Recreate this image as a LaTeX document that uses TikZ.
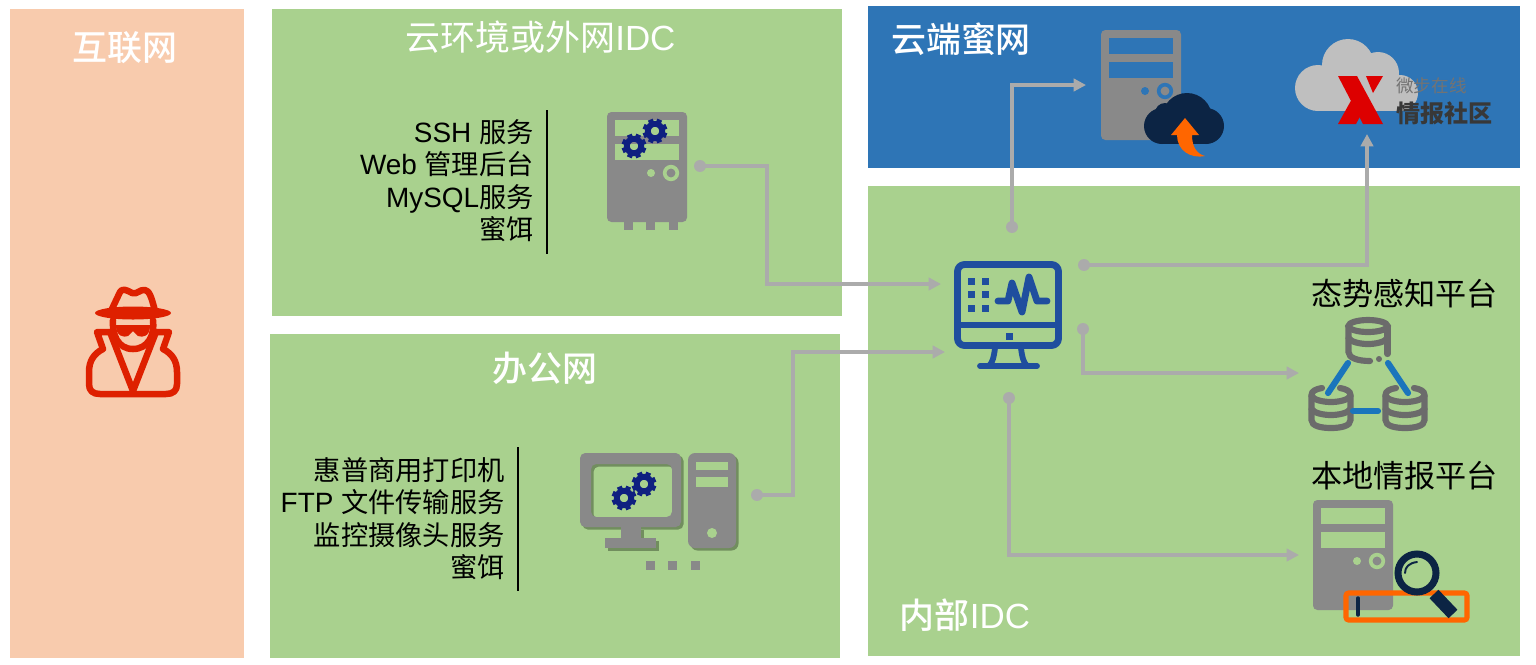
\documentclass[tikz,border=0pt]{standalone}
\usepackage{fontspec}
\setmainfont{Liberation Sans}
\newfontfamily\cjk{Noto Sans CJK SC}
\newfontfamily\cjkm{Noto Sans CJK SC Medium}
\newfontfamily\cjkl[Scale=0.975]{Noto Sans CJK SC}
\newcommand\zh[1]{{\cjk #1}}
\newcommand\zm[1]{{\cjkm #1}}
\newcommand\zl[1]{{\cjkl #1}}
\usetikzlibrary{arrows.meta}
\definecolor{panelgreen}{HTML}{A9D18E}
\definecolor{panelpeach}{HTML}{F8CBAD}
\definecolor{panelblue}{HTML}{2E75B6}
\definecolor{linegrey}{HTML}{ABABAB}
\definecolor{srvgrey}{HTML}{898989}
\definecolor{gearblue}{HTML}{0F2080}
\definecolor{monblue}{HTML}{1F4E9E}
\definecolor{navy}{HTML}{0C2444}
\definecolor{hotorange}{HTML}{FF6600}
\definecolor{dbgrey}{HTML}{6B6B6B}
\definecolor{dbblue}{HTML}{1A75BC}
\definecolor{spyred}{HTML}{DE2000}
\definecolor{logored}{HTML}{DD0000}
\definecolor{cloudgrey}{HTML}{BFBFBF}
\definecolor{softshadow}{HTML}{718E5E}
\tikzset{
  x=0.02cm,y=-0.02cm,
  panel/.style={fill=#1,draw=none},
  titletext/.style={text=white,inner sep=0pt,font=\fontsize{19.9}{23}\selectfont},
  listtext/.style={text=black,inner sep=0pt,align=right,anchor=east,font=\fontsize{15.9}{18.45}\selectfont},
  platformtext/.style={text=black,inner sep=0pt,font=\fontsize{17.7}{21}\selectfont},
  bar/.style={draw=black,line width=0.8pt},
  dotnode/.style={circle,fill=linegrey,draw=none,inner sep=0pt,minimum size=6.8pt},
  link/.style={draw=linegrey,line width=2.2pt,-{Triangle[length=7pt,width=7pt]}},
  dbline/.style={draw=dbgrey,line width=3.5pt,line cap=round},
  dbconn/.style={draw=dbblue,line width=3.5pt,line cap=round},
  monline/.style={draw=monblue,line width=3.9pt,line cap=round,line join=round},
  spyline/.style={draw=spyred,line width=3.7pt,line join=round,line cap=round},
}
\newcommand\gearico[2]{%
  \begin{scope}[shift={(#1,#2)}]
    \draw[gearblue,line width=3.3pt] (0,0) circle[radius=7.2];
    \foreach \a in {0,45,...,315}
      \draw[gearblue,line width=2.9pt] (\a+22.5:8) -- (\a+22.5:12.3);
  \end{scope}}
\newcommand\serverico[3]{%
  \begin{scope}[shift={(#1,#2)}]
    \fill[srvgrey,rounded corners=2.5pt] (0,0) rectangle (80,110);
    \fill[#3] (8,8) rectangle (72,24);
    \fill[#3] (8,32) rectangle (72,48);
    \fill[#3] (44,61) circle[radius=4];
    \draw[#3,line width=2.1pt] (64,61) circle[radius=6.3];
  \end{scope}}
\newcommand\lowerdb[1]{%
  \begin{scope}[shift={(#1,0)}]
    \draw[dbline] (-9,388) .. controls (-15,389) and (-19.5,391) .. (-19.5,395) -- (-19.5,420)
       .. controls (-19.5,426) and (-10,428) .. (0,428) .. controls (10,428) and (19.5,426) .. (19.5,420) -- (19.5,395)
       .. controls (19.5,391) and (15,389) .. (9,388);
    \draw[dbline] (-19.5,396) .. controls (-17,400) and (-8,402) .. (0,402) .. controls (8,402) and (17,400) .. (19.5,396);
    \draw[dbline] (-19.5,409) .. controls (-17,413) and (-8,415) .. (0,415) .. controls (8,415) and (17,413) .. (19.5,409);
  \end{scope}}
\begin{document}
\begin{tikzpicture}
\useasboundingbox (0,0) rectangle (1536,664);
\fill[white] (0,0) rectangle (1536,664);
% panels
\fill[panel=panelpeach] (10,9) rectangle (244,658);
\fill[panel=panelgreen] (272,9) rectangle (842,316);
\fill[panel=panelgreen] (270,334) rectangle (840,658);
\fill[panel=panelblue] (868,6) rectangle (1520,168);
\fill[panel=panelgreen] (868,186) rectangle (1520,656);
% titles
\node[titletext] (tnet) at (125,48) {\zm{互联网}};
\node[titletext] (tcloud) at (540.5,37) {\zh{云环境或外网}IDC};
\node[titletext] (toffice) at (545,368) {\zm{办公网}};
\node[titletext] (thoney) at (961,39) {\zm{云端蜜网}};
\node[titletext] (tidc) at (965,615) {\zm{内部}IDC};
% lists
\node[listtext] (list1) at (534,180.5) {SSH \zl{服务}\\Web \zl{管理后台}\\MySQL\zl{服务}\\\zl{蜜饵}};
\draw[bar] (547,110) -- (547,254);
\node[listtext] (list2) at (505,518.5) {\zl{惠普商用打印机}\\FTP \zl{文件传输服务}\\\zl{监控摄像头服务}\\\zl{蜜饵}};
\draw[bar] (518,447) -- (518,591);
\node[platformtext] (tsa) at (1404.5,294) {\zh{态势感知平台}};
\node[platformtext] (tlocal) at (1404.5,476) {\zh{本地情报平台}};
% spy
\begin{scope}
  \fill[spyred] (133,313) ellipse[x radius=38,y radius=6.5];
  \draw[spyline] (111,311) -- (120,292) .. controls (122,288) and (127,290) .. (132,293) .. controls (137,295) and (140,289) .. (145,290) .. controls (149,291) and (151,295) .. (155,311);
  \draw[spyline] (113,320) .. controls (112,335) and (118,349) .. (133,349) .. controls (148,349) and (155,335) .. (153,320);
  \fill[spyred] (113,325) rectangle (152,328);
  \fill[spyred] (116,326) .. controls (116,336) and (124,338) .. (128,336) -- (133,331) -- (138,336) .. controls (143,338) and (150,336) .. (150,326) -- cycle;
  \draw[spyline] (110,332) -- (97,332) -- (103,349) .. controls (93,354) and (89,362) .. (89,372) -- (89,384) .. controls (89,391) and (93,394) .. (100,394) -- (166,394) .. controls (173,394) and (177,391) .. (177,384) -- (177,372) .. controls (177,362) and (173,354) .. (163,349) -- (169,332) -- (156,332);
  \draw[spyline] (110,332) -- (133,391) -- (156,332);
\end{scope}
% server with gears
\serverico{607}{112}{panelgreen}
\fill[srvgrey] (624,221) rectangle (633,230);
\fill[srvgrey] (646,221) rectangle (655,230);
\fill[srvgrey] (669,221) rectangle (678,230);
\gearico{634}{146}
\gearico{655}{131}
% desktop
\begin{scope}[shift={(2.5,2.5)}]
  \fill[softshadow,even odd rule,rounded corners=3pt] (580,453) rectangle (681,527) (591,464) rectangle (672,517);
  \fill[softshadow] (621,527) rectangle (641,538);
  \fill[softshadow] (605,538) rectangle (656,548);
  \fill[softshadow,rounded corners=4pt] (688,453) rectangle (736,548);
\end{scope}
\fill[srvgrey,even odd rule,rounded corners=3pt] (580,453) rectangle (681,527) (591,464) rectangle (672,517);
\fill[srvgrey] (621,527) rectangle (641,538);
\fill[srvgrey] (605,538) rectangle (656,548);
\fill[srvgrey,rounded corners=4pt] (688,453) rectangle (736,548);
\fill[panelgreen] (696,462) rectangle (728,470);
\fill[panelgreen] (696,477) rectangle (728,487);
\fill[panelgreen] (712,533) circle[radius=5];
\fill[srvgrey] (646,561) rectangle (655,570);
\fill[srvgrey] (668,561) rectangle (677,570);
\fill[srvgrey] (691,561) rectangle (700,570);
\gearico{624}{498}
\gearico{644}{484}
% cloud honeypot server
\serverico{1101}{30}{panelblue}
\fill[navy] (1187,118) circle[radius=25];
\fill[navy] (1165,113) circle[radius=10];
\fill[navy] (1162,126) circle[radius=18];
\fill[navy] (1206,126) circle[radius=18];
\fill[navy] (1162,125) rectangle (1206,144);
\fill[hotorange] (1185,118) -- (1199,135) -- (1192,135) .. controls (1192,147) and (1197,154) .. (1205,156) .. controls (1190,159) and (1177,150) .. (1177,135) -- (1171,135) -- cycle;
% threat intel logo
\fill[cloudgrey] (1318,88) circle[radius=23];
\fill[cloudgrey] (1348,65) circle[radius=26];
\fill[cloudgrey] (1378,73) circle[radius=21];
\fill[cloudgrey] (1400,93) circle[radius=18];
\fill[cloudgrey] (1318,75) rectangle (1400,111);
\fill[logored] (1338,76) -- (1357,76) -- (1383,124) -- (1363,124) -- cycle;
\fill[logored] (1338,124) -- (1353,97) -- (1362,113) -- (1356,124) -- cycle;
\fill[logored] (1366,76) -- (1383,76) -- (1373,93) -- cycle;
\node[inner sep=0pt,anchor=west,text=black!55,font=\fontsize{10}{12}\selectfont] (lg1) at (1396,86) {\zh{微步在线}};
\node[inner sep=0pt,anchor=west,text=black!78,font=\fontsize{13.7}{16}\bfseries\selectfont] (lg2) at (1396,113) {\cjk 情报社区};
% monitor
\draw[monline,rounded corners=4pt] (957.5,264.5) rectangle (1058.5,345.5);
\draw[monline,line cap=butt] (957,325) -- (1059,325);
\fill[monblue] (1005.5,332.5) rectangle (1012.5,339.5);
\foreach \gx in {971,985} \foreach \gy in {281,294,308}
  \fill[monblue] (\gx-3.5,\gy-3.5) rectangle (\gx+3.5,\gy+3.5);
\draw[monline] (998,301) -- (1008,301) -- (1012,283) -- (1022,312) -- (1029,277) -- (1037,301) -- (1047,301);
\draw[monline,line width=3.3pt] (995,348) .. controls (994,356) and (993,362) .. (989,366);
\draw[monline,line width=3.3pt] (1021,348) .. controls (1022,356) and (1023,362) .. (1027,366);
\draw[monline,line width=3.3pt] (980,366) -- (1037,366);
% databases
\begin{scope}
  \draw[dbline] (1368,326) ellipse[x radius=19.5,y radius=6];
  \draw[dbline] (1348.5,338) .. controls (1351,342) and (1360,344) .. (1368,344) .. controls (1376,344) and (1385,342) .. (1387.5,338);
  \draw[dbline] (1348.5,326) -- (1348.5,352) .. controls (1348.5,358) and (1358,361) .. (1370,361);
  \draw[dbline] (1387.5,326) -- (1387.5,354);
  \fill[dbgrey] (1379,359) circle[radius=3];
  \lowerdb{1331}
  \lowerdb{1405}
  \draw[dbconn] (1348,363) -- (1328,393);
  \draw[dbconn] (1388,363) -- (1408,393);
  \draw[dbconn] (1353,411) -- (1378,411);
\end{scope}
% local intel server
\serverico{1313}{500}{panelgreen}
\draw[hotorange,line width=2.9pt,rounded corners=1.5pt] (1346,593) rectangle (1467,620);
\draw[navy,line width=2pt,line cap=round] (1358,598) -- (1358,615);
\draw[navy,line width=4pt] (1417,573) circle[radius=19];
\draw[navy,line width=1.1pt,line cap=round] (1405,573) .. controls (1405,567) and (1409,563) .. (1417,562);
\draw[navy,line width=7pt] (1434,594) -- (1453,614);
% connectors
\node[dotnode] (d1) at (700,166) {};
\node[dotnode] (d2) at (757,495) {};
\node[dotnode] (d3) at (1012,227) {};
\node[dotnode] (d4) at (1084,265) {};
\node[dotnode] (d5) at (1083,329) {};
\node[dotnode] (d6) at (1009,398) {};
\coordinate (t1) at (941,284);
\coordinate (t2) at (945,352);
\coordinate (t3) at (1086,85);
\coordinate (t4) at (1367,134);
\coordinate (t5) at (1299,373);
\coordinate (t6) at (1299,555);
\coordinate (b1) at (767,284);
\coordinate (b2) at (793,352);
\draw[link] (d1.center) -| (b1) -- (t1);
\draw[link] (d2.center) -| (b2) -- (t2);
\draw[link] (d3.center) |- (t3);
\draw[link] (d4.center) -| (t4);
\draw[link] (d5.center) |- (t5);
\draw[link] (d6.center) |- (t6);
\end{tikzpicture}
\end{document}
